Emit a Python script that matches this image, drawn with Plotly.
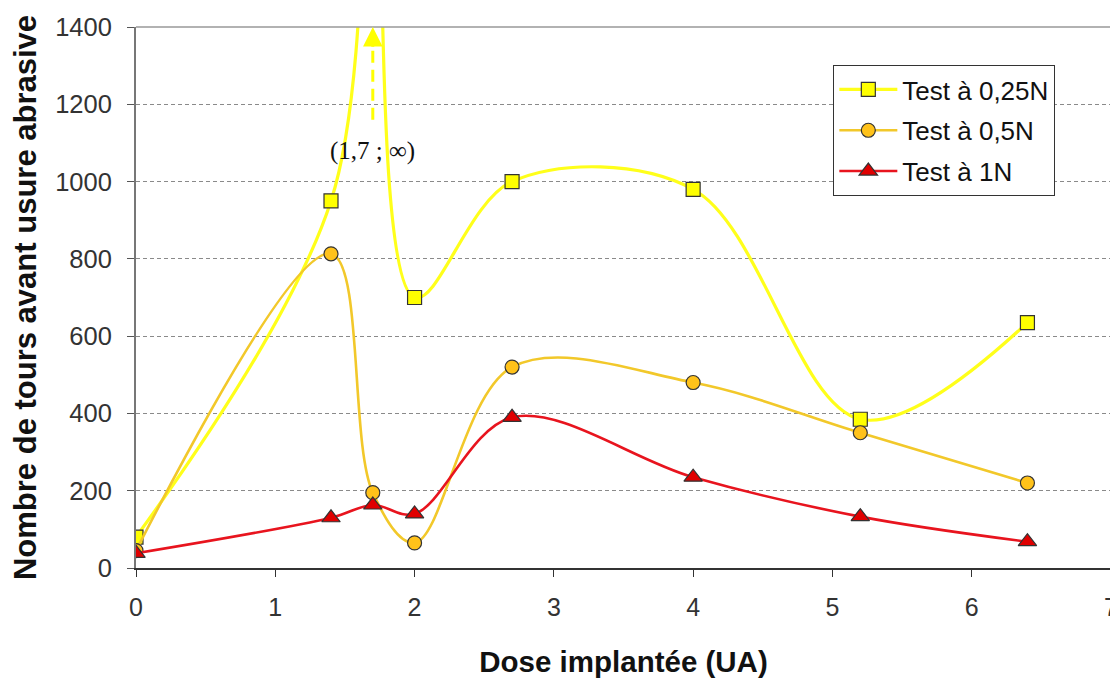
import plotly.graph_objects as go

# ---- data ----
dose = [0, 1.4, 1.7, 2, 2.7, 4, 5.2, 6.4]
INF_VALUE = 2000  # stands for "infinity" at dose 1.7 (drawn off the top of the axis)
test_025 = [80, 950, INF_VALUE, 700, 1000, 980, 385, 635]
test_05 = [45, 813, 195, 65, 520, 480, 350, 220]
test_1 = [38, 130, 163, 140, 390, 235, 133, 68]

names = ["Test à 0,25N", "Test à 0,5N", "Test à 1N"]
x_ticks = [0, 1, 2, 3, 4, 5, 6, 7]
y_ticks = [0, 200, 400, 600, 800, 1000, 1200, 1400]

series = [
    dict(y=test_025, name=names[0], line="#FFFF1A", width=3.2,
         symbol="square", fill="#FFFF00", size=14),
    dict(y=test_05, name=names[1], line="#F2C82A", width=2.6,
         symbol="circle", fill="#FFC21A", size=14),
    dict(y=test_1, name=names[2], line="#E8141E", width=2.6,
         symbol="triangle-up", fill="#E00000", size=16),
]

fig = go.Figure()
for i, s in enumerate(series):
    fig.add_trace(go.Scatter(
        x=dose, y=s["y"], name=s["name"], mode="lines+markers",
        legendgroup=f"g{i}",
        line=dict(color=s["line"], width=s["width"], shape="spline", smoothing=1.0),
        marker=dict(symbol=s["symbol"], color=s["fill"], size=s["size"],
                    line=dict(color="#333333", width=1.2)),
        cliponaxis=True,
    ))

font_family = "Liberation Sans, Arial, sans-serif"

# page body has an 8px margin, so the figure is sized/placed to compensate
fig.update_layout(
    width=1110, height=670,
    margin=dict(l=128, r=7, t=19, b=110, autoexpand=False),
    paper_bgcolor="white", plot_bgcolor="white",
    font=dict(family=font_family, color="#1a1a1a"),
    showlegend=True,
    legend=dict(
        x=0.715, y=0.93, xanchor="left", yanchor="top",
        bordercolor="#333333", borderwidth=1.2, bgcolor="white",
        font=dict(size=26, family=font_family, color="#111111"),
        itemwidth=58, tracegroupgap=4,
    ),
    xaxis=dict(
        range=[0, 7], tickvals=x_ticks, ticktext=[str(v) for v in x_ticks],
        showgrid=False, zeroline=False, automargin=False,
        showline=True, linecolor="#333333", linewidth=1.5,
        ticks="outside", ticklen=7, tickcolor="#333333", tickwidth=1.2,
        ticklabelstandoff=9,
        tickfont=dict(size=25, color="#333333"),
        title=dict(text="<b>Dose implantée (UA)</b>", font=dict(size=29.5, color="#111111"), standoff=40),
    ),
    yaxis=dict(
        range=[0, 1400], tickvals=y_ticks, ticktext=[str(v) for v in y_ticks],
        showgrid=True, gridcolor="#8a8a8a", griddash="4px,3px", gridwidth=1,
        zeroline=False, automargin=False,
        showline=True, linecolor="#777777", linewidth=2,
        ticks="outside", ticklen=7, tickcolor="#555555", tickwidth=1.2,
        ticklabelstandoff=10,
        tickfont=dict(size=25.5, color="#333333"),
        title=dict(text="<b>Nombre de tours avant usure abrasive</b>", font=dict(size=31, color="#111111"), standoff=14),
    ),
)

# frame (top and right borders)
fig.add_shape(type="line", xref="paper", yref="paper", x0=0, x1=1, y0=1, y1=1,
              line=dict(color="#999999", width=1.5))
fig.add_shape(type="line", xref="paper", yref="paper", x0=1, x1=1, y0=0, y1=1,
              line=dict(color="#bbbbbb", width=1.5))

# dashed arrow for the infinite value
fig.add_shape(type="line", x0=1.7, x1=1.7, y0=1160, y1=1350,
              line=dict(color="#FFFF00", width=3, dash="12px,7px"))
fig.add_annotation(x=1.7, y=1400, ax=1.7, ay=1345, xref="x", yref="y",
                   axref="x", ayref="y", text="", showarrow=True,
                   arrowhead=2, arrowsize=1.3, arrowwidth=3, arrowcolor="#FFFF00")
fig.add_annotation(x=1.7, y=1079, text="(1,7 ; ∞)", showarrow=False,
                   font=dict(family="Liberation Serif, Times New Roman, serif", size=25, color="#111111"))

fig.write_html("out.html")
